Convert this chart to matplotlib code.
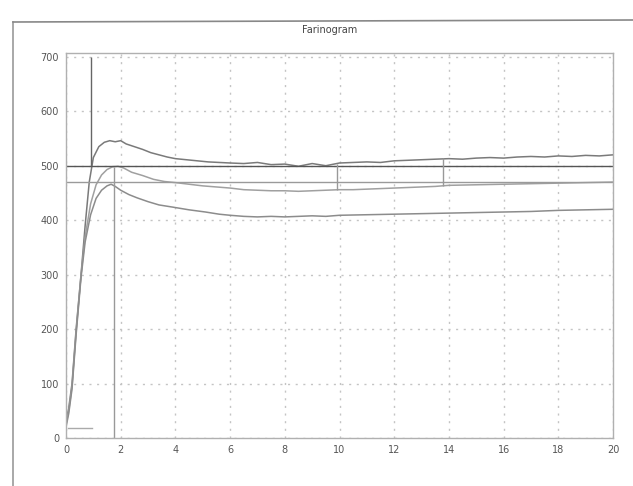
import numpy as np
import matplotlib
matplotlib.use("Agg")
import matplotlib.pyplot as plt
from matplotlib.lines import Line2D

# farinogram curves (minutes, FU)
upper_t = [0, 0.1, 0.22, 0.37, 0.55, 0.7, 0.85, 1.0, 1.2, 1.4, 1.6, 1.8, 2.0, 2.2,
           2.5, 2.8, 3.1, 3.4, 3.7, 4.0, 4.4, 4.8, 5.2, 5.6, 6.0, 6.5, 7.0, 7.5,
           8.0, 8.5, 9.0, 9.5, 10.0, 10.5, 11.0, 11.5, 12.0, 12.5, 13.0, 13.5,
           14.0, 14.5, 15.0, 15.5, 16.0, 16.5, 17.0, 17.5, 18.0, 18.5, 19.0, 19.5, 20.0]
upper_v = [30, 55, 100, 200, 300, 390, 470, 515, 535, 543, 546, 544, 546, 540,
           535, 530, 524, 520, 516, 513, 511, 509, 507, 506, 505, 504, 506, 502,
           503, 499, 504, 500, 505, 506, 507, 506, 509, 510, 511, 512,
           513, 512, 514, 515, 514, 516, 517, 516, 518, 517, 519, 518, 520]

middle_t = [0, 0.1, 0.22, 0.37, 0.55, 0.7, 0.9, 1.1, 1.3, 1.5, 1.7, 1.9, 2.1, 2.4,
            2.8, 3.2, 3.6, 4.0, 4.5, 5.0, 5.5, 6.0, 6.5, 7.0, 7.5, 8.0, 8.5, 9.0,
            9.5, 10.0, 10.5, 11.0, 11.5, 12.0, 12.5, 13.0, 13.5, 14.0, 15.0, 16.0,
            17.0, 18.0, 19.0, 20.0]
middle_v = [25, 50, 95, 195, 300, 370, 430, 465, 483, 493, 498, 499, 496, 488,
            482, 475, 471, 469, 466, 463, 461, 459, 456, 455, 454, 454, 453, 454,
            455, 456, 456, 457, 458, 459, 460, 461, 462, 464, 465, 466,
            467, 468, 469, 470]

lower_t = [0, 0.1, 0.22, 0.37, 0.55, 0.7, 0.9, 1.1, 1.3, 1.5, 1.65, 1.8, 2.0, 2.3,
           2.6, 3.0, 3.4, 3.9, 4.5, 5.1, 5.6, 6.0, 6.5, 7.0, 7.5, 8.0, 8.5, 9.0,
           9.5, 10.0, 11.0, 12.0, 13.0, 14.0, 15.0, 16.0, 17.0, 18.0, 19.0, 20.0]
lower_v = [20, 45, 90, 190, 295, 360, 410, 440, 455, 463, 466, 462, 455, 447,
           441, 434, 428, 424, 419, 415, 411, 409, 407, 406, 407, 406, 407, 408,
           407, 409, 410, 411, 412, 413, 414, 415, 416, 418, 419, 420]

ref_levels = [500, 470]
marker_x = [0.9, 1.75, 9.9, 13.8]
marker_lo = [500, 0, 456, 462]
marker_hi = [700, 498, 504, 514]

x_ticks = [0, 2, 4, 6, 8, 10, 12, 14, 16, 18, 20]
y_ticks = [0, 100, 200, 300, 400, 500, 600, 700]

fig = plt.figure(figsize=(6.33, 4.86), dpi=100)
ax = fig.add_axes([66 / 633, 1 - 438 / 486, (613 - 66) / 633, (438 - 53) / 486])

ax.plot(upper_t, upper_v, color='#7a7a7a', lw=1.1)
ax.plot(middle_t, middle_v, color='#a0a0a0', lw=1.1)
ax.plot(lower_t, lower_v, color='#8c8c8c', lw=1.1)

ax.axhline(ref_levels[0], color='#555555', lw=1.0)
ax.axhline(ref_levels[1], color='#9a9a9a', lw=1.0)
ax.vlines(marker_x, marker_lo, marker_hi, colors=['#666666', '#999999', '#999999', '#999999'], lw=1.0)
ax.plot([0.07, 0.95], [18, 18], color='#aaaaaa', lw=1.0)

ax.set_xlim(0, 20)
ax.set_ylim(0, 707)
ax.set_xticks(x_ticks)
ax.set_yticks(y_ticks)
ax.tick_params(length=0, labelsize=7, labelcolor='#555555', pad=5)
ax.grid(True, color='#c4c4c4', ls=(0, (1.5, 4)), lw=1.0)
for s in ax.spines.values():
    s.set_color('#b0b0b0')
    s.set_linewidth(1.0)

fig.text(330 / 633, 1 - 30 / 486, 'Farinogram', ha='center', va='center', fontsize=7, color='#444444')

# outer scanned frame
fig.add_artist(Line2D([13 / 633, 13 / 633], [0, 1 - 22 / 486], transform=fig.transFigure, color='#999999', lw=1.2))
fig.add_artist(Line2D([13 / 633, 1.0], [1 - 22 / 486, 1 - 20 / 486], transform=fig.transFigure, color='#888888', lw=1.2))

fig.savefig('out.png', dpi=100)
